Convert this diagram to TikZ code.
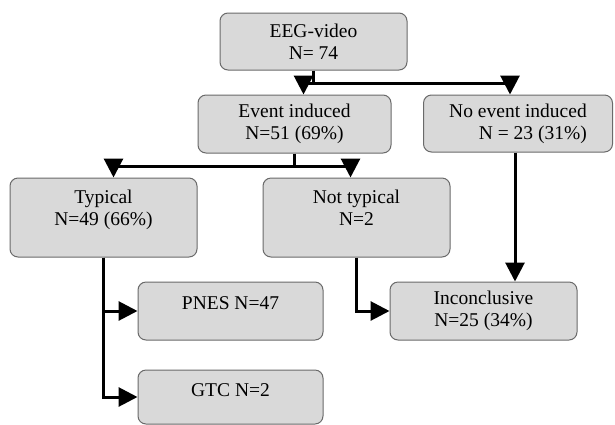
\documentclass[tikz,border=0pt]{standalone}
\usepackage{fontspec}
\setmainfont{Liberation Serif}
\usetikzlibrary{arrows.meta}

\begin{document}
\begin{tikzpicture}[x=1pt,y=-1pt,
  mybox/.style={draw=boxline,fill=boxfill,rounded corners=8pt,line width=1pt,
    align=center,inner sep=2pt,font=\fontsize{19.5}{22}\selectfont},
  myarrow/.style={line width=3pt,-{Triangle[length=19pt,width=19pt]}}]
\definecolor{boxfill}{HTML}{D9D9D9}
\definecolor{boxline}{HTML}{6A6A6A}
\useasboundingbox (0,0) rectangle (615,424);
% boxes
\node [mybox,minimum width=187,minimum height=57] (eeg) at (313.5,41.5) {EEG-video\\N= 74};
\node [mybox,minimum width=193,minimum height=58] (event) at (294.5,124) {Event induced\\N=51 (69\%)};
\node [mybox,minimum width=189,minimum height=57,align=right] (noevent) at (518,123.5) {No event induced\\N = 23 (31\%)};
\node [mybox,minimum width=187,minimum height=79,text depth=20] (typical) at (103.5,217.5) {Typical\\N=49 (66\%)};
\node [mybox,minimum width=187,minimum height=79,text depth=20] (nottyp) at (356.5,217.5) {Not typical\\N=2};
\node [mybox,minimum width=185,minimum height=58,text depth=16] (pnes) at (230.5,311) {PNES N=47};
\node [mybox,minimum width=185,minimum height=54,text depth=14] (gtc) at (230.5,397) {GTC N=2};
\node [mybox,minimum width=187,minimum height=58] (incon) at (483.5,311) {Inconclusive\\N=25 (34\%)};
% connectors
\coordinate (split1) at (eeg.south |- 0,83);
\draw [myarrow] (eeg.south) -- (split1) -| ([xshift=9]event.north);
\draw [myarrow] (split1) -| ([xshift=-8]noevent.north);
\coordinate (split2) at (event.south |- 0,166);
\draw [myarrow] (event.south) -- (split2) -| ([xshift=10]typical.north);
\draw [myarrow] (split2) -| ([xshift=-6]nottyp.north);
\draw [myarrow] (typical.south) |- (pnes.west);
\draw [myarrow] (typical.south) |- (gtc.west);
\draw [myarrow] (nottyp.south) |- (incon.west);
\draw [myarrow] ([xshift=-3]noevent.south) -- ([xshift=-3]noevent.south |- incon.north);
\end{tikzpicture}
\end{document}
